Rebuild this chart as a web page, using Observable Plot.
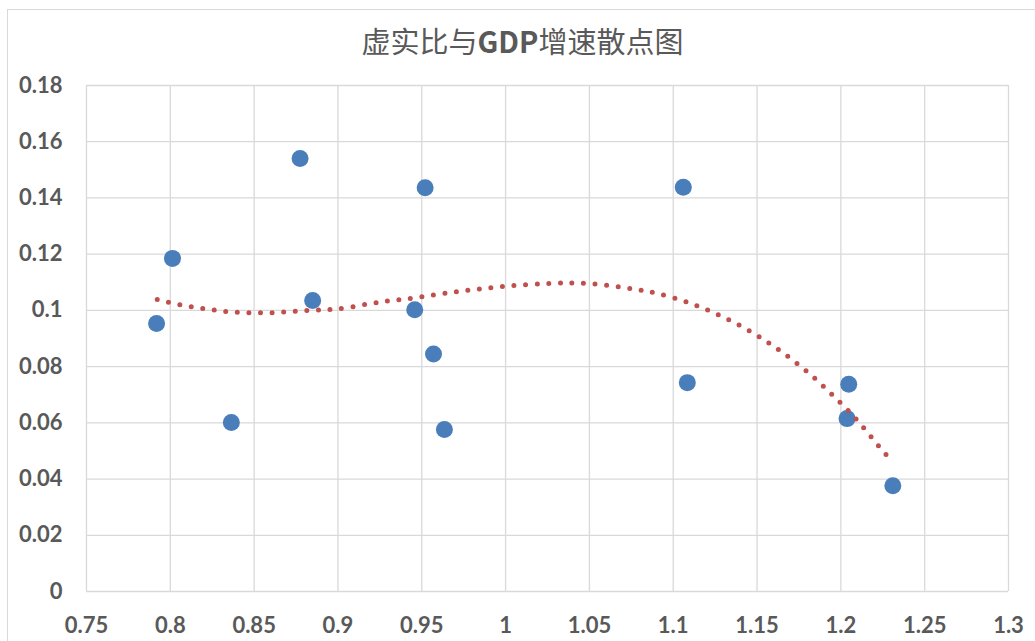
<!DOCTYPE html>
<html>
<head>
<meta charset="utf-8">
<script src="https://cdn.jsdelivr.net/npm/d3@7"></script>
<script src="https://cdn.jsdelivr.net/npm/@observablehq/plot@0.6"></script>
<style>
  html, body { margin: 0; padding: 0; background: #fff; }
  #wrap { position: relative; width: 1035px; height: 641px; overflow: hidden; background: #fff; }
  #border { position: absolute; left: 7px; top: 9px; width: 1100px; height: 700px; border: 1px solid #d9d9d9; box-sizing: border-box; }
  #title { position: relative; height: 70px; line-height: 80px; text-align: center; font-family: "Noto Sans CJK SC", sans-serif; font-size: 29px; color: #595959; padding-left: 10px; }
  #title b { font-weight: bold; }
  #chart { position: relative; }
</style>
</head>
<body>
<div id="wrap">
  <div id="border"></div>
  <div id="title">虚实比与<b>GDP</b>增速散点图</div>
  <div id="chart"></div>
</div>
<script>
// Scatter data (虚实比, GDP增速)
const ratio = [0.7918, 0.8013, 0.8364, 0.8774, 0.8849, 0.9458, 0.9520, 0.9570, 0.9635, 1.1060, 1.1084, 1.2047, 1.2037, 1.2310];
const growth = [0.0953, 0.1185, 0.0601, 0.1540, 0.1035, 0.1002, 0.1436, 0.0845, 0.0576, 0.1438, 0.0743, 0.0737, 0.0615, 0.0376];

// Trendline
const trendX = [0.7922, 0.8057, 0.8193, 0.8332, 0.8471, 0.8612, 0.8752, 0.8893, 0.9000, 0.9172, 0.9305, 0.9440, 0.9713, 0.9985, 1.0266, 1.0483, 1.0754, 1.0893, 1.1088, 1.1275, 1.1456, 1.1629, 1.1797, 1.1952, 1.2099, 1.2233, 1.2310];
const trendY = [0.1039, 0.1020, 0.1007, 0.0996, 0.0992, 0.0992, 0.0997, 0.1002, 0.1005, 0.1022, 0.1034, 0.1043, 0.1067, 0.1085, 0.1096, 0.1096, 0.1077, 0.1062, 0.1028, 0.0983, 0.0927, 0.0860, 0.0783, 0.0698, 0.0608, 0.0512, 0.0460];

const xTicks = [0.75, 0.8, 0.85, 0.9, 0.95, 1, 1.05, 1.1, 1.15, 1.2, 1.25, 1.3];
const yTicks = [0, 0.02, 0.04, 0.06, 0.08, 0.1, 0.12, 0.14, 0.16, 0.18];

const points = ratio.map((r, i) => ({x: r, y: growth[i]}));
const trend = trendX.map((t, i) => ({x: t, y: trendY[i]}));

const gridColor = "#d9d9d9";
const textColor = "#595959";

const plot = Plot.plot({
  width: 1035,
  height: 571,
  marginLeft: 86,
  marginRight: 27,
  marginTop: 15,
  marginBottom: 50,
  style: { fontFamily: "Lato, 'Open Sans', sans-serif", background: "transparent", overflow: "visible" },
  x: { domain: [0.75, 1.3] },
  y: { domain: [0, 0.18] },
  marks: [
    Plot.gridX(xTicks, { stroke: gridColor, strokeOpacity: 1, strokeWidth: 1.3 }),
    Plot.gridY(yTicks, { stroke: gridColor, strokeOpacity: 1, strokeWidth: 1.3 }),
    Plot.axisX({ ticks: xTicks, tickSize: 0, tickPadding: 26, tickFormat: d => String(d), fontSize: 22, fontWeight: "bold", fill: textColor, label: null }),
    Plot.axisY({ ticks: yTicks, tickSize: 0, tickPadding: 24, tickFormat: d => String(d), fontSize: 22, fontWeight: "bold", fill: textColor, label: null }),
    Plot.dot(points, { x: "x", y: "y", r: 8.5, fill: "#4a7ebb", stroke: "none" }),
    Plot.line(trend, { x: "x", y: "y", stroke: "#c0504d", strokeWidth: 5, strokeDasharray: "0 11.6", strokeLinecap: "round", curve: "catmull-rom" })
  ]
});
document.getElementById("chart").appendChild(plot);
</script>
</body>
</html>
